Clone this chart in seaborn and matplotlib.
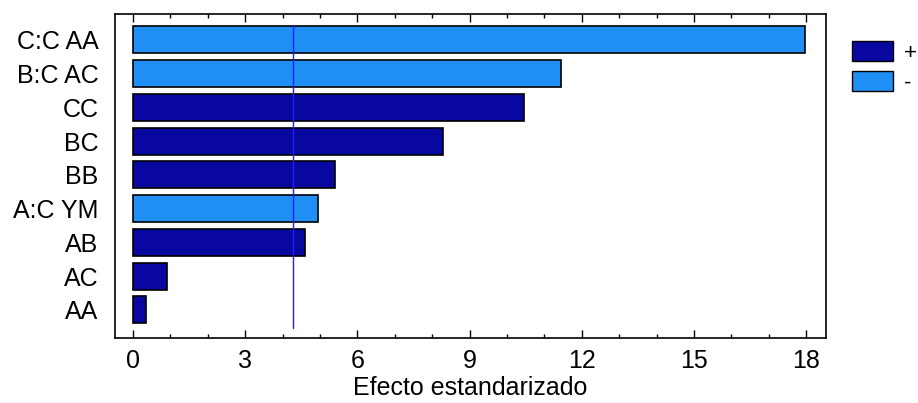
import matplotlib
matplotlib.use("Agg")
import matplotlib.pyplot as plt
import seaborn as sns
import pandas as pd
from matplotlib.ticker import MultipleLocator
from matplotlib.patches import Patch

terms = ["C:C AA", "B:C AC", "CC", "BC", "BB", "A:C YM", "AB", "AC", "AA"]
effects = [17.97, 11.45, 10.46, 8.29, 5.40, 4.95, 4.60, 0.91, 0.35]
signs = ["-", "-", "+", "+", "+", "-", "+", "+", "+"]
critical = 4.28
xticks = [0, 3, 6, 9, 12, 15, 18]

df = pd.DataFrame({"term": terms, "effect": effects, "sign": signs})

sns.set_theme(style="white")
plt.rcParams["font.family"] = ["Liberation Sans", "DejaVu Sans"]
plt.rcParams["text.color"] = "black"
plt.rcParams["xtick.color"] = "black"
plt.rcParams["ytick.color"] = "black"
plt.rcParams["axes.labelcolor"] = "black"

dark = "#0808a0"
light = "#1f8ff5"
palette = {"+": dark, "-": light}

fig = plt.figure(figsize=(9.18, 4.03), dpi=100)
ax = fig.add_axes([115 / 918, 1 - 338 / 403, (826 - 115) / 918, (338 - 14) / 403])

sns.barplot(data=df, x="effect", y="term", hue="sign", palette=palette,
            order=terms, hue_order=["+", "-"], dodge=False, width=0.8,
            saturation=1, edgecolor="black", linewidth=1.2, ax=ax, legend=False)

ax.axvline(critical, color="#2020ff", linewidth=1.0, ymin=0.03, ymax=0.966)

ax.set_xlim(-0.48, 18.53)
ax.set_ylim(8.83, -0.77)
ax.set_xticks(xticks)
ax.xaxis.set_minor_locator(MultipleLocator(1))
ax.tick_params(axis="x", which="both", direction="in", top=True, bottom=True,
               labelsize=18, pad=8, color="black")
ax.tick_params(axis="x", which="major", length=6, width=1)
ax.tick_params(axis="x", which="minor", length=3, width=1)
ax.tick_params(axis="y", which="both", left=False, labelsize=18, pad=6)
for s in ax.spines.values():
    s.set_color("black")
    s.set_linewidth(1.2)
ax.set_xlabel("Efecto estandarizado", fontsize=18, labelpad=2)
ax.set_ylabel("")

handles = [Patch(facecolor=dark, edgecolor="black", label="+"),
           Patch(facecolor=light, edgecolor="black", label="-")]
fig.legend(handles=handles, loc="upper left", bbox_to_anchor=(852 / 918, 1 - 41 / 403),
           frameon=False, fontsize=16, handlelength=1.85, handleheight=1.0,
           handletextpad=0.5, labelspacing=0.35, borderaxespad=0, borderpad=0)

fig.savefig("out.png", dpi=100, facecolor="white")
